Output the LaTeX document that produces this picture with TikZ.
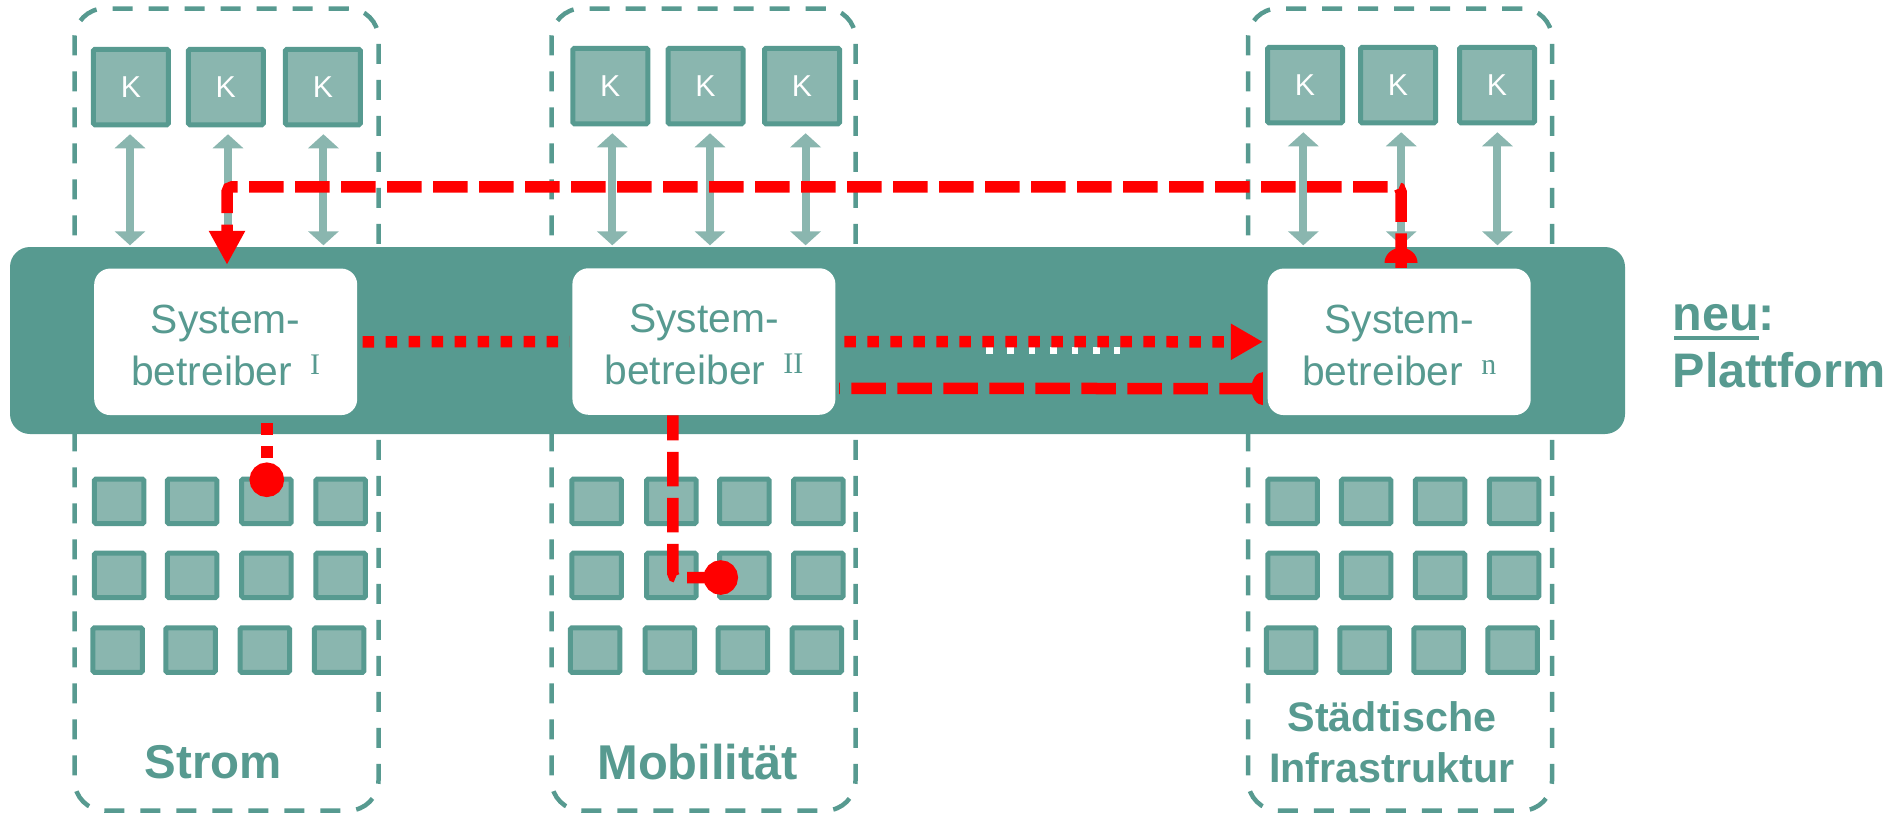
\documentclass[tikz,border=0pt]{standalone}
\usepackage{fontspec}
\setmainfont{Liberation Sans}
\newfontfamily\supfont{Liberation Serif}
\usetikzlibrary{arrows.meta}
\definecolor{teal1}{HTML}{579A90}
\definecolor{teal2}{HTML}{8AB6AF}
\newcommand{\supmark}[1]{\raisebox{.11cm}{\supfont\fontsize{8.5}{9}\selectfont #1}}
\newcommand{\sbtext}[1]{\rule{0pt}{.35cm}System-\\betreiber\ \,\supmark{#1}}
\begin{document}
\begin{tikzpicture}
% Set styles for domains, boxes and lines
\tikzstyle{Domain}=[draw=teal1,line width=.045cm,rounded corners=.3cm,dash pattern=on .2cm off .16cm,minimum width=3.04cm,minimum height=8.02cm]
\tikzstyle{Band}=[fill=teal1,rounded corners=.2cm,minimum width=16.15cm,minimum height=1.87cm]
\tikzstyle{Betreiber}=[fill=white,rounded corners=.16cm,text=teal1,align=center,font=\fontsize{11.6}{14.8}\selectfont,minimum width=2.63cm,minimum height=1.465cm,inner sep=0pt]
\tikzstyle{Kbox}=[draw=teal1,fill=teal2,line width=.05cm,rounded corners=.015cm,text=white,font=\fontsize{8.6}{10}\selectfont,minimum width=.75cm,minimum height=.755cm,inner sep=0pt]
\tikzstyle{Cell}=[draw=teal1,fill=teal2,line width=.05cm,rounded corners=.015cm,minimum width=.495cm,minimum height=.445cm,inner sep=0pt]
\tikzstyle{Label}=[text=teal1,align=center,font=\bfseries\fontsize{13.5}{14.5}\selectfont,inner sep=0pt]
\tikzstyle{Link}=[teal2,line width=.08cm,{Triangle[length=.14cm,width=.3cm]}-{Triangle[length=.14cm,width=.3cm]}]
\tikzstyle{RedDash}=[red,line width=.115cm,dash pattern=on .345cm off .115cm]
\tikzstyle{RedDot}=[red,line width=.115cm,dash pattern=on .115cm off .115cm]
\useasboundingbox (0,0) rectangle (18.89,-8.13);
% Domains
\foreach [count=\i] \x in {2.265,7.035,14.00}
  \node[Domain] at (\x,-4.095) (d\i) {};
% Kunden
\foreach [count=\i] \x/\y in {
    1.309/-.87, 2.258/-.87, 3.229/-.87,
    6.103/-.86, 7.055/-.86, 8.02/-.86,
    13.05/-.85, 13.98/-.85, 14.97/-.85}
  \node[Kbox] at (\x,\y) (k\i) {K};
% Plattform
\node[Band] at (8.175,-3.405) (band) {};
% Links
\foreach [count=\i] \a in {1.30,2.28,3.234,6.123,7.10,8.056,13.033,14.012,14.974}
  \draw[Link,shorten <=.07cm,shorten >=.01cm] (\a,0 |- k\i.south) -- (\a,0 |- band.north);
% Cells
\foreach \d/\xa/\xb/\xc/\xd in {
    1/1.192/1.92/2.664/3.407,
    2/5.967/6.713/7.443/8.183,
    3/12.925/13.662/14.40/15.14}
  \foreach \c/\x in {1/\xa,2/\xb,3/\xc,4/\xd}
    \foreach \r/\y/\s in {1/-5.013/0,2/-5.753/0,3/-6.50/-.015}
      \node[Cell] at ({\x+\s},\y) (c\d\c\r) {};
% Labels
\node[Label] at (2.135,-7.62) (strom) {Strom};
\node[Label,font=\bfseries\fontsize{13.9}{14.5}\selectfont] at (6.977,-7.62) (mob) {Mobilität};
\node[Label,font=\bfseries\fontsize{11.75}{14.4}\selectfont] at (13.92,-7.42) (infra) {Städtische\\Infrastruktur};
\node[Label,anchor=north west,align=left,font=\bfseries\fontsize{13.8}{16.2}\selectfont] at (16.72,-3.04) (neu) {neu\llap{\rule[-.09cm]{.848cm}{.04cm}}:\\Plattform};
% Ends and lines
\coordinate (p1) at (2.668,-4.97);
\coordinate (p2) at (7.38,-5.775);
\draw[white,line width=.065cm,dash pattern=on .065cm off .149cm] (9.86,-3.505) coordinate (w1) -- (11.2,-3.505) coordinate (w2);
\node[Betreiber] at (2.257,-3.418) (sb1) {\sbtext{I}};
\node[Betreiber] at (7.039,-3.415) (sb2) {\sbtext{II}};
\node[Betreiber] at (13.992,-3.418) (sbn) {\sbtext{n}};
\draw[RedDot,shorten <=.046cm,shorten >=.02cm] (sb1.east) -- (sb2.west);
\draw[RedDot,shorten <=.083cm,shorten >=.041cm,-{Triangle[length=.32cm,width=.34cm]}] (sb2.east) -- (sbn.west);
\draw[RedDash,shorten <=.131cm,shorten >=.03cm] ([yshift=-.468cm]sbn.west) -- ([yshift=-.468cm]sb2.east);
\fill[red] ([yshift=-.468cm,xshift=-.041cm]sbn.west) ++(0,.165) arc[start angle=90,end angle=270,x radius=.115cm,y radius=.165cm] -- cycle;
\draw[RedDash,rounded corners=.05cm,shorten >=.03cm,-{Triangle[length=.34cm,width=.34cm]}] ([xshift=.018cm]sbn.north) -- ++(0,.81) -| ([xshift=.013cm]sb1.north);
\fill[red] ([xshift=.018cm,yshift=.05cm]sbn.north) ++(-.165,0) arc[start angle=180,end angle=0,x radius=.165cm,y radius=.15cm] -- cycle;
\draw[RedDot,shorten <=.073cm,-{Circle[length=.345cm]}] (sb1.south -| p1) -- (p1);
\draw[RedDash,rounded corners=.04cm,dash phase=.095cm,-{Circle[length=.345cm]}] ([xshift=-.31cm]sb2.south) |- (p2);
\end{tikzpicture}
\end{document}
